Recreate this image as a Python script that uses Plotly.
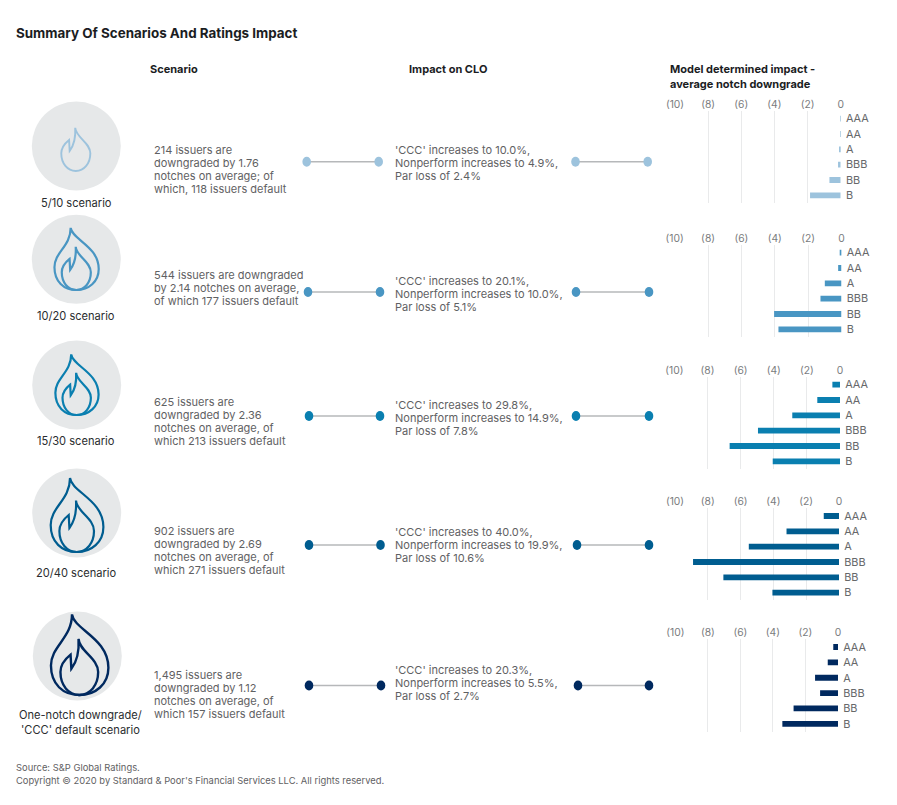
import plotly.graph_objects as go

W, H = 897, 805
FONT = "Inter"
TEXT_GREY = "#5f6163"
DARK = "#1b1d1f"

ratings = ["AAA", "AA", "A", "BBB", "BB", "B"]
notch_ticks = [-10, -8, -6, -4, -2, 0]
notch_labels = ["(10)", "(8)", "(6)", "(4)", "(2)", "0"]

impact_5_10 = [-0.01, -0.01, -0.05, -0.16, -0.68, -1.85]
impact_10_20 = [-0.05, -0.2, -1.0, -1.26, -4.04, -3.78]
impact_15_30 = [-0.46, -1.37, -2.88, -4.95, -6.66, -4.06]
impact_20_40 = [-0.93, -3.2, -5.5, -8.9, -7.05, -4.06]
impact_one_notch = [-0.29, -0.63, -1.41, -1.1, -2.73, -3.42]

scenario_names = [
    ["5/10 scenario"],
    ["10/20 scenario"],
    ["15/30 scenario"],
    ["20/40 scenario"],
    ["One-notch downgrade/", "'CCC' default scenario"],
]
scenario_texts = [
    ["214 issuers are", "downgraded by 1.76", "notches on average; of", "which, 118 issuers default"],
    ["544 issuers are downgraded", "by 2.14 notches on average,", "of which 177 issuers default"],
    ["625 issuers are", "downgraded by 2.36", "notches on average, of", "which 213 issuers default"],
    ["902 issuers are", "downgraded by 2.69", "notches on average, of", "which 271 issuers default"],
    ["1,495 issuers are", "downgraded by 1.12", "notches on average, of", "which 157 issuers default"],
]
clo_texts = [
    ["'CCC' increases to 10.0%,", "Nonperform increases to 4.9%,", "Par loss of 2.4%"],
    ["'CCC' increases to 20.1%,", "Nonperform increases to 10.0%,", "Par loss of 5.1%"],
    ["'CCC' increases to 29.8%,", "Nonperform increases to 14.9%,", "Par loss of 7.8%"],
    ["'CCC' increases to 40.0%,", "Nonperform increases to 19.9%,", "Par loss of 10.6%"],
    ["'CCC' increases to 20.3%,", "Nonperform increases to 5.5%,", "Par loss of 2.7%"],
]
impacts = [impact_5_10, impact_10_20, impact_15_30, impact_20_40, impact_one_notch]
colors = ["#9dc3dd", "#4996c3", "#0a7fb0", "#005d90", "#00295f"]

# ---- layout geometry (pixels) ----
axis_x = [(675.0, 840.7), (674.7, 841.5), (674.3, 840.0), (675.0, 839.0), (675.3, 838.0)]
axis_y = [(111, 203), (245, 337), (377, 469), (508.3, 600.3), (639.3, 731.5)]
circle_c = [(76.3, 146), (76.3, 259.3), (76.7, 385), (76.7, 513), (77.3, 656)]
flame_cfg = [(0.84, -0.5, 25, 1.9, False), (0.84, 0, 30.7, 2.2, True), (0.82, 0, 30, 2.2, True),
             (1.0, 0, 39, 2.2, True), (1.09, 2, 39, 2.4, True)]
name_y = [[203], [316], [441], [573], [715, 730]]
name_x = [76, 76, 76, 76, 80]
scen_y0 = [150, 275, 402, 531, 675]
clo_y0 = [150, 281, 405, 532, 670]
link_y = [161.8, 292, 416, 545, 685.5]
link_left = [(306.7, 378.7), (308, 380), (309, 380), (309, 380.5), (309, 381)]
link_right = [(575.5, 647.7), (576, 649), (576, 649), (577, 649), (578, 649)]


def px(x):
    return x / W


def py(y):
    return 1 - y / H


def scale_path(segs, cx, cy, s):
    out = []
    for cmd, pts in segs:
        n = 3 if cmd == "C" else 1
        for j in range(0, len(pts), n):
            coords = " ".join(f"{px(cx + s * a):.5f},{py(cy + s * b):.5f}" for a, b in pts[j:j + n])
            out.append(f"{cmd}{coords}")
    return " ".join(out) + " Z"


# flame outlines, pixel offsets from the flame's own origin at bottom-centre
OUTER = [
    ("M", [(-6.7, -74)]),
    ("C", [(-5, -60), (26.7, -52), (26.7, -25), (26.7, -10), (15, 0), (0, 0),
           (-15, 0), (-26, -10), (-26, -27), (-26, -45), (-6.7, -52), (-6.7, -74)]),
]
INNER = [
    ("M", [(-0.7, -51.5)]),
    ("C", [(0, -40), (17.3, -34), (17.3, -21), (17.3, -9), (10, 0), (0, 0),
           (-10, 0), (-17.3, -9), (-17.3, -21), (-17.3, -28), (-13, -33), (-8, -37)]),
    ("L", [(-7.3, -24)]),
    ("C", [(-2, -31), (0, -40), (-0.7, -51.5)]),
]

shapes = []
annotations = []


def text(x, y, s, size=11.0, color=TEXT_GREY, anchor="left", bold=False):
    annotations.append(dict(
        xref="paper", yref="paper", x=px(x), y=py(y), text=f"<b>{s}</b>" if bold else s,
        showarrow=False, xanchor=anchor, yanchor="middle",
        font=dict(family=FONT, size=size, color=color), align=anchor,
        borderpad=0, borderwidth=0,
    ))


def ellipse(cx, cy, rx, ry, fill):
    shapes.append(dict(type="circle", xref="paper", yref="paper",
                       x0=px(cx - rx), x1=px(cx + rx), y0=py(cy + ry), y1=py(cy - ry),
                       fillcolor=fill, line=dict(width=0), layer="below"))


def link(x0, x1, y, color):
    shapes.append(dict(type="line", xref="paper", yref="paper",
                       x0=px(x0), x1=px(x1), y0=py(y), y1=py(y),
                       line=dict(color="#b6b8ba", width=1.5), layer="below"))
    ellipse(x0, y, 4.3, 5, color)
    ellipse(x1, y, 4.3, 5, color)


fig = go.Figure()
for i, (vals, col) in enumerate(zip(impacts, colors)):
    suffix = "" if i == 0 else str(i + 1)
    fig.add_trace(go.Bar(
        x=vals, y=ratings, orientation="h", marker=dict(color=col, line=dict(width=0)),
        xaxis=f"x{suffix}", yaxis=f"y{suffix}", showlegend=False, hoverinfo="x+y",
    ))
    (xa, xb), (ya, yb) = axis_x[i], axis_y[i]
    fig.update_layout({
        f"xaxis{suffix}": dict(
            domain=[px(xa), px(xb)], range=[-10, 0], anchor=f"y{suffix}", side="top",
            tickvals=notch_ticks, ticktext=notch_labels, ticks="", showgrid=True,
            gridcolor="#e9eaeb", gridwidth=1.3, zeroline=False, showline=False, automargin=False,
            tickfont=dict(family=FONT, size=10.3, color="#7a7c7e"), fixedrange=True,
        ),
        f"yaxis{suffix}": dict(
            domain=[py(yb), py(ya)], anchor=f"x{suffix}", side="right", type="category",
            categoryorder="array", categoryarray=ratings[::-1], ticks="outside", ticklen=2,
            tickcolor="rgba(0,0,0,0)", showgrid=False, zeroline=False, showline=False, automargin=False,
            tickfont=dict(family=FONT, size=10.9, color="#66686a"), fixedrange=True,
        ),
    })

    cx, cy = circle_c[i]
    ellipse(cx, cy, 44.5, 44.5, "#e6e8e9")
    s, dx, dy, lw, has_outer = flame_cfg[i]
    fx, fy = cx + dx, cy + dy
    if has_outer:
        shapes.append(dict(type="path", xref="paper", yref="paper",
                           path=scale_path(OUTER, fx, fy, s),
                           line=dict(color=col, width=lw), layer="below"))
    shapes.append(dict(type="path", xref="paper", yref="paper",
                       path=scale_path(INNER, fx, fy, s),
                       line=dict(color=col, width=lw), layer="below"))

    for nm, y in zip(scenario_names[i], name_y[i]):
        text(name_x[i], y, nm, size=11.1, color="#2a2c2e", anchor="center")
    for k, line in enumerate(scenario_texts[i]):
        text(154, scen_y0[i] + 13 * k, line)
    for k, line in enumerate(clo_texts[i]):
        text(395, clo_y0[i] + 13 * k, line)
    link(*link_left[i], link_y[i], col)
    link(*link_right[i], link_y[i], col)

text(16, 33, "Summary Of Scenarios And Ratings Impact", size=13.4, color=DARK, bold=True)
text(150, 69, "Scenario", size=11, color=DARK, bold=True)
text(409, 69, "Impact on CLO", size=11, color=DARK, bold=True)
text(670, 69, "Model determined impact -", size=11, color=DARK, bold=True)
text(670, 84, "average notch downgrade", size=11, color=DARK, bold=True)
text(16, 767, "Source: S&amp;P Global Ratings.", size=9.4)
text(16, 780, "Copyright © 2020 by Standard &amp; Poor's Financial Services LLC. All rights reserved.", size=9.4)

fig.update_layout(
    width=W, height=H, autosize=False,
    margin=dict(l=0, r=0, t=0, b=0, pad=0, autoexpand=False),
    paper_bgcolor="white", plot_bgcolor="rgba(0,0,0,0)", bargap=0.62,
    shapes=shapes, annotations=annotations,
    font=dict(family=FONT),
)
fig.write_html("out.html", config={"displayModeBar": False},
               post_script="document.body.style.margin='0';")
